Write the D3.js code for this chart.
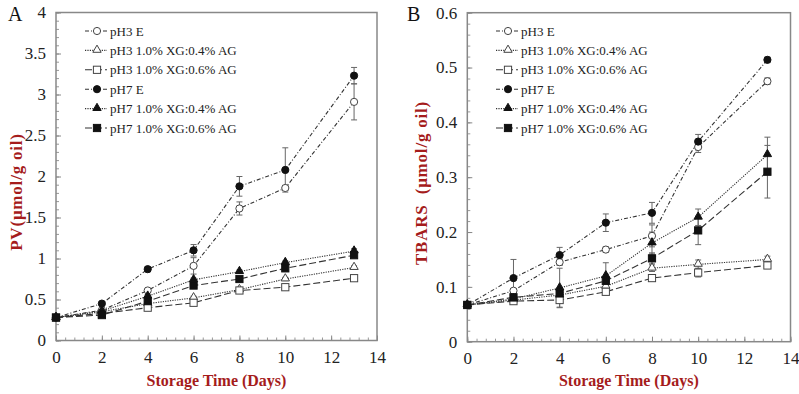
<!DOCTYPE html>
<html>
<head>
<meta charset="utf-8">
<script src="https://cdn.jsdelivr.net/npm/d3@7"></script>
<style>
  body { margin: 0; background: #fff; }
  svg { display: block; font-family: "Liberation Serif", "Times New Roman", serif; }
</style>
</head>
<body>
<div id="chart-area"></div>
<script>
// storage days (x values)
let days = [0, 2, 4, 6, 8, 10, 13];

let seriesNames = ["pH3 E", "pH3 1.0% XG:0.4% AG", "pH3 1.0% XG:0.6% AG",
    "pH7 E", "pH7 1.0% XG:0.4% AG", "pH7 1.0% XG:0.6% AG"];

// panel A - peroxide value
let pvPH3E   = [0.28, 0.37, 0.61, 0.91, 1.61, 1.86, 2.91];
let pvPH3XG4 = [0.28, 0.35, 0.45, 0.52, 0.62, 0.75, 0.89];
let pvPH3XG6 = [0.28, 0.33, 0.40, 0.46, 0.61, 0.65, 0.76];
let pvPH7E   = [0.28, 0.45, 0.87, 1.10, 1.88, 2.08, 3.23];
let pvPH7XG4 = [0.28, 0.36, 0.54, 0.74, 0.84, 0.95, 1.09];
let pvPH7XG6 = [0.28, 0.31, 0.48, 0.67, 0.75, 0.88, 1.04];

let pvErrPH3E   = [0, 0.02, 0.02, 0.10, 0.08, 0.03, 0.22];
let pvErrPH3XG4 = [0, 0.01, 0.01, 0.02, 0.02, 0.02, 0.02];
let pvErrPH3XG6 = [0, 0.01, 0.01, 0.01, 0.02, 0.02, 0.02];
let pvErrPH7E   = [0, 0.02, 0.03, 0.07, 0.12, 0.27, 0.10];
let pvErrPH7XG4 = [0, 0.01, 0.02, 0.02, 0.02, 0.02, 0.03];
let pvErrPH7XG6 = [0, 0.01, 0.02, 0.02, 0.02, 0.02, 0.02];

// panel B - TBARS
let tbPH3E   = [0.067, 0.093, 0.145, 0.168, 0.193, 0.355, 0.475];
let tbPH3XG4 = [0.067, 0.076, 0.085, 0.101, 0.134, 0.141, 0.150];
let tbPH3XG6 = [0.067, 0.074, 0.076, 0.091, 0.116, 0.126, 0.139];
let tbPH7E   = [0.067, 0.116, 0.158, 0.217, 0.235, 0.365, 0.514];
let tbPH7XG4 = [0.067, 0.078, 0.098, 0.120, 0.180, 0.227, 0.341];
let tbPH7XG6 = [0.067, 0.081, 0.088, 0.111, 0.152, 0.203, 0.310];

let tbErrPH3E   = [0, 0.004, 0.006, 0.005, 0.020, 0.010, 0.006];
let tbErrPH3XG4 = [0, 0.003, 0.004, 0.005, 0.006, 0.008, 0.006];
let tbErrPH3XG6 = [0, 0.003, 0.013, 0.004, 0.005, 0.008, 0.005];
let tbErrPH7E   = [0, 0.034, 0.014, 0.016, 0.019, 0.013, 0.005];
let tbErrPH7XG4 = [0, 0.004, 0.036, 0.024, 0.020, 0.015, 0.032];
let tbErrPH7XG6 = [0, 0.004, 0.006, 0.006, 0.010, 0.026, 0.048];

let yTicksA = [0, 0.5, 1, 1.5, 2, 2.5, 3, 3.5, 4];
let yTicksB = [0, 0.1, 0.2, 0.3, 0.4, 0.5, 0.6];
let xTicks = [0, 2, 4, 6, 8, 10, 12, 14];

// styling per series
let markers = ["circle-open", "tri-open", "square-open", "circle", "tri", "square"];
let dashes = ["4,2,1,2", "1.2,1.2", "7,3", "4,2,1,2", "1.2,1.2", "7,3"];

let labelColor = "#a51c1c";

let svg = d3.select("#chart-area")
    .append("svg")
    .attr("width", 799)
    .attr("height", 394);

let panels = [
    {letter: "A", left: 56, right: 377, top: 12.5, bottom: 340.5, ymax: 4, yTicks: yTicksA, yMinor: 0.1,
     title: "PV(μmol/g oil)", titleX: 16, titleY: 192, legX: 85,
     values: [pvPH3E, pvPH3XG4, pvPH3XG6, pvPH7E, pvPH7XG4, pvPH7XG6],
     errs: [pvErrPH3E, pvErrPH3XG4, pvErrPH3XG6, pvErrPH7E, pvErrPH7XG4, pvErrPH7XG6]},
    {letter: "B", left: 467.3, right: 790.5, top: 12.7, bottom: 341.7, ymax: 0.6, yTicks: yTicksB, yMinor: 0.02,
     title: "TBARS  (μmol/g oil)", titleX: 421, titleY: 183, legX: 496,
     values: [tbPH3E, tbPH3XG4, tbPH3XG6, tbPH7E, tbPH7XG4, tbPH7XG6],
     errs: [tbErrPH3E, tbErrPH3XG4, tbErrPH3XG6, tbErrPH7E, tbErrPH7XG4, tbErrPH7XG6]}
];

function drawMarker(g, type, x, y) {
    let filled = type.indexOf("open") < 0;
    let fill = filled ? "#111" : "#fff";
    let stroke = filled ? "#111" : "#444";
    if (type.startsWith("circle")) {
        g.append("circle").attr("cx", x).attr("cy", y).attr("r", 3.6)
            .attr("fill", fill).attr("stroke", stroke).attr("stroke-width", 1);
    } else if (type.startsWith("square")) {
        g.append("rect").attr("x", x - 3.6).attr("y", y - 3.6).attr("width", 7.2).attr("height", 7.2)
            .attr("fill", fill).attr("stroke", stroke).attr("stroke-width", 1);
    } else {
        g.append("path")
            .attr("d", d3.symbol(d3.symbolTriangle, 30)())
            .attr("transform", "translate(" + x + "," + (y - 0.5) + ")")
            .attr("fill", fill).attr("stroke", stroke).attr("stroke-width", 1);
    }
}

panels.forEach(p => {
    let x = d3.scaleLinear().domain([0, 14]).range([p.left, p.right]);
    let y = d3.scaleLinear().domain([0, p.ymax]).range([p.bottom, p.top]);
    let g = svg.append("g");

    // minor ticks (inside)
    g.append("g")
        .attr("transform", "translate(" + p.left + ",0)")
        .call(d3.axisLeft(y).tickValues(d3.range(0, p.ymax + 1e-9, p.yMinor)).tickSize(-3).tickFormat(""))
        .call(a => a.select(".domain").remove())
        .call(a => a.selectAll("line").attr("stroke", "#999"));
    g.append("g")
        .attr("transform", "translate(0," + p.bottom + ")")
        .call(d3.axisBottom(x).tickValues(d3.range(0, 14.01, 0.4)).tickSize(-3).tickFormat(""))
        .call(a => a.select(".domain").remove())
        .call(a => a.selectAll("line").attr("stroke", "#999"));

    // major axes
    g.append("g")
        .attr("transform", "translate(" + p.left + ",0)")
        .call(d3.axisLeft(y).tickValues(p.yTicks).tickSize(-5).tickPadding(10)
            .tickFormat(d => String(+d.toFixed(1))))
        .call(a => a.select(".domain").remove())
        .call(a => a.selectAll("line").attr("stroke", "#888"))
        .call(a => a.selectAll("text").attr("font-size", 17)
            .attr("font-family", "Liberation Serif").attr("fill", "#222"));
    g.append("g")
        .attr("transform", "translate(0," + p.bottom + ")")
        .call(d3.axisBottom(x).tickValues(xTicks).tickSize(-5).tickPadding(10))
        .call(a => a.select(".domain").remove())
        .call(a => a.selectAll("line").attr("stroke", "#888"))
        .call(a => a.selectAll("text").attr("font-size", 17)
            .attr("font-family", "Liberation Serif").attr("fill", "#222"));

    // frame
    g.append("rect")
        .attr("x", p.left).attr("y", p.top)
        .attr("width", p.right - p.left).attr("height", p.bottom - p.top)
        .attr("fill", "none").attr("stroke", "#888").attr("stroke-width", 1.5);

    // titles
    g.append("text")
        .attr("x", p.letter == "A" ? 8 : 407).attr("y", 21)
        .attr("font-size", 20).attr("fill", "#111")
        .text(p.letter);
    g.append("text")
        .attr("transform", "translate(" + p.titleX + "," + p.titleY + ") rotate(-90)")
        .attr("text-anchor", "middle").attr("dy", "0.35em")
        .attr("font-size", 17).attr("font-weight", "bold").attr("fill", labelColor)
        .attr("letter-spacing", 0.8)
        .attr("xml:space", "preserve")
        .text(p.title);
    g.append("text")
        .attr("x", (p.left + p.right) / 2).attr("y", 386)
        .attr("text-anchor", "middle")
        .attr("font-size", 16).attr("font-weight", "bold").attr("fill", labelColor)
        .text("Storage Time (Days)");

    let line = d3.line().x((d, i) => x(days[i])).y(d => y(d));

    // error bars
    p.values.forEach((vals, s) => {
        vals.forEach((v, i) => {
            let e = p.errs[s][i];
            if (!e) return;
            let cx = x(days[i]);
            g.append("line").attr("x1", cx).attr("x2", cx).attr("y1", y(v - e)).attr("y2", y(v + e))
                .attr("stroke", "#666").attr("stroke-width", 1);
            [v - e, v + e].forEach(t => {
                g.append("line").attr("x1", cx - 3).attr("x2", cx + 3).attr("y1", y(t)).attr("y2", y(t))
                    .attr("stroke", "#666").attr("stroke-width", 1);
            });
        });
    });

    // lines
    p.values.forEach((vals, s) => {
        g.append("path")
            .datum(vals)
            .attr("d", line)
            .attr("fill", "none")
            .attr("stroke", "#333")
            .attr("stroke-width", 1.1)
            .attr("stroke-dasharray", dashes[s]);
    });

    // markers
    p.values.forEach((vals, s) => {
        vals.forEach((v, i) => drawMarker(g, markers[s], x(days[i]), y(v)));
    });

    // legend
    seriesNames.forEach((name, s) => {
        let ly = 31 + s * 19.4;
        g.append("line")
            .attr("x1", p.legX).attr("x2", p.legX + 22).attr("y1", ly).attr("y2", ly)
            .attr("stroke", "#333").attr("stroke-width", 1.1)
            .attr("stroke-dasharray", dashes[s]);
        drawMarker(g, markers[s], p.legX + 12, ly);
        g.append("text")
            .attr("x", p.legX + 25).attr("y", ly).attr("dy", "0.35em")
            .attr("font-size", 13).attr("fill", "#222")
            .text(name);
    });
});
</script>
</body>
</html>
